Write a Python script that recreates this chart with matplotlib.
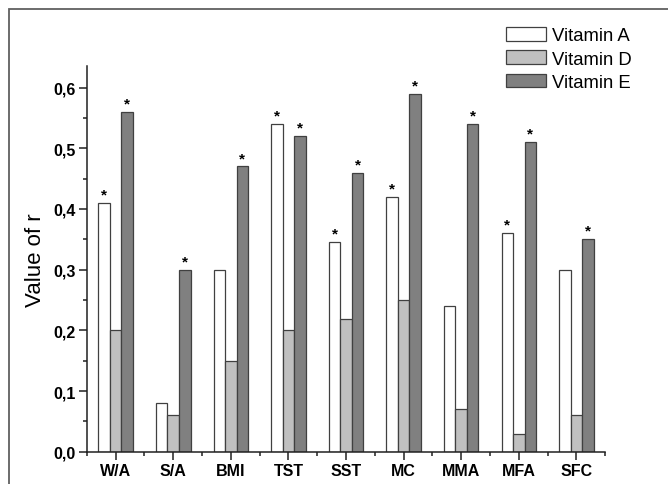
import matplotlib
matplotlib.use("Agg")
import matplotlib.pyplot as plt
from matplotlib.patches import Rectangle
import numpy as np

categories = ["W/A", "S/A", "BMI", "TST", "SST", "MC", "MMA", "MFA", "SFC"]
vit_a = [0.41, 0.08, 0.30, 0.54, 0.346, 0.42, 0.24, 0.36, 0.30]
vit_d = [0.20, 0.06, 0.15, 0.20, 0.218, 0.25, 0.07, 0.03, 0.06]
vit_e = [0.56, 0.30, 0.47, 0.52, 0.46, 0.59, 0.54, 0.51, 0.35]
# significance flags (asterisks)
sig_a = [1, 0, 0, 1, 1, 1, 0, 1, 0]
sig_d = [0, 0, 0, 0, 0, 0, 0, 0, 0]
sig_e = [1, 1, 1, 1, 1, 1, 1, 1, 1]

plt.rcParams['font.family'] = ['Liberation Sans', 'DejaVu Sans']

fig = plt.figure(figsize=(6.68, 4.85), dpi=100)
ax = fig.add_axes([0.130, 0.0665, 0.776, 0.796])

# outer frame around the figure (right/bottom edges cropped)
fig.patches.append(Rectangle((0.014, -0.1), 1.2, 0.1 + 0.979, transform=fig.transFigure,
                             fill=False, edgecolor="#606060", linewidth=1.3))

x = np.arange(1, len(categories) + 1)
w = 0.2
series = [(vit_a, sig_a, "white", "Vitamin A"),
          (vit_d, sig_d, "#c0c0c0", "Vitamin D"),
          (vit_e, sig_e, "#808080", "Vitamin E")]
for i, (vals, sig, col, lab) in enumerate(series):
    pos = x + (i - 1) * w
    ax.bar(pos, vals, width=w, color=col, edgecolor="#404040", linewidth=0.9, label=lab)
    for p, v, s in zip(pos, vals, sig):
        if s:
            ax.annotate("*", (p, v), xytext=(0, 1), textcoords="offset points",
                        ha="center", va="bottom", fontsize=11, fontweight="bold")

ax.set_xlim(0.5, 9.5)
ax.set_ylim(0, 0.636)
ax.set_xticks(x)
ax.set_xticklabels(categories, fontweight="bold", fontsize=11.5)
ax.set_xticks(np.arange(0.5, 9.6, 1.0), minor=True)
ax.set_yticks(np.arange(0, 0.61, 0.1))
ax.set_yticklabels([f"{v:.1f}".replace(".", ",") for v in np.arange(0, 0.61, 0.1)],
                   fontweight="bold", fontsize=11.5)
ax.set_yticks(np.arange(0.05, 0.64, 0.1), minor=True)
ax.tick_params(axis="both", which="major", direction="out", length=6, width=1.1,
               pad=2, color="#202020")
ax.tick_params(axis="both", which="minor", direction="out", length=3, width=1.1,
               color="#202020")
ax.set_ylabel("Value of r", fontsize=16, labelpad=5)

for s in ["top", "right"]:
    ax.spines[s].set_visible(False)
for s in ["left", "bottom"]:
    ax.spines[s].set_linewidth(1.1)
    ax.spines[s].set_color("#202020")

handles, labels = ax.get_legend_handles_labels()
leg = fig.legend(handles, labels, loc="upper left", bbox_to_anchor=(0.757, 0.942),
                 frameon=False, fontsize=13.3, handlelength=2.2, handleheight=0.75,
                 handletextpad=0.32, labelspacing=0.33, borderpad=0, borderaxespad=0)
for h in leg.legend_handles:
    h.set_edgecolor("#404040")
    h.set_linewidth(0.9)

fig.savefig("out.png", dpi=100)
